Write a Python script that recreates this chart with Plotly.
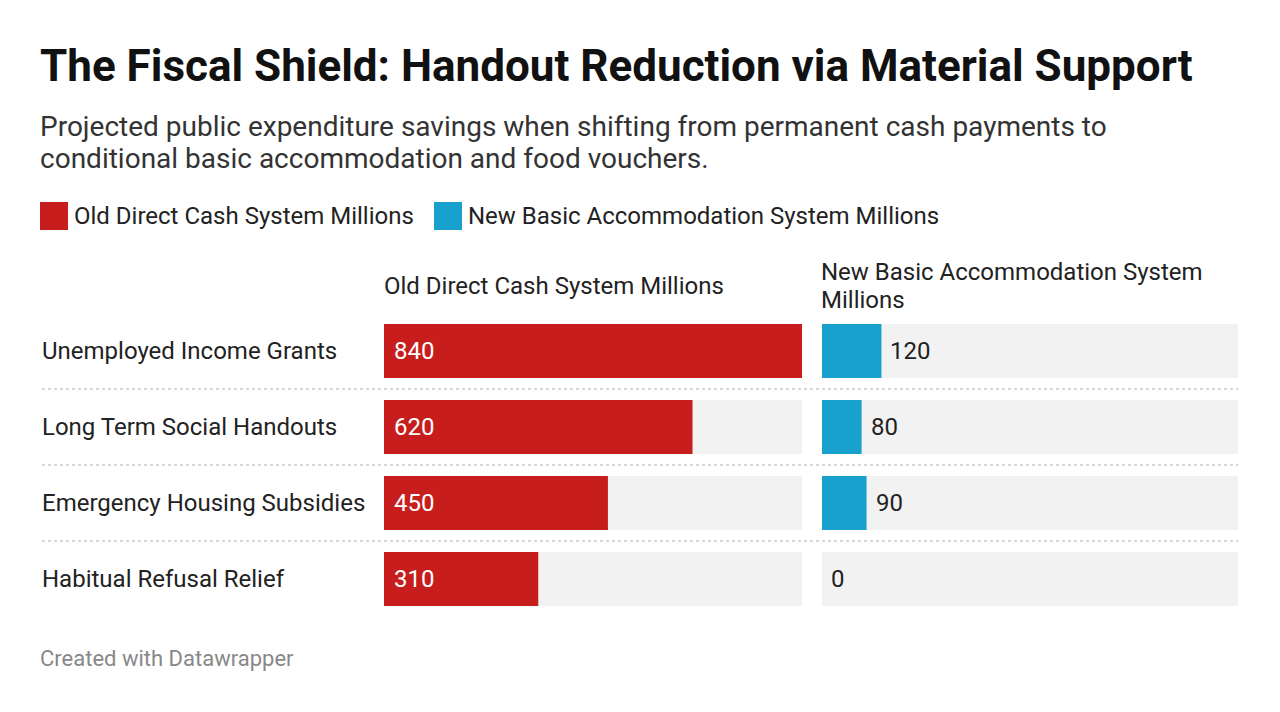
import plotly.graph_objects as go

# data
categories = [
    "Unemployed Income Grants",
    "Long Term Social Handouts",
    "Emergency Housing Subsidies",
    "Habitual Refusal Relief",
]
old_cash = [840, 620, 450, 310]
new_accommodation = [120, 80, 90, 0]
series_names = ["Old Direct Cash System Millions", "New Basic Accommodation System Millions"]

RED = "#c71e1d"
BLUE = "#18a1cd"
GREY_BG = "#f2f2f2"
FONT = "Roboto"
W, H = 1280, 712


def px_x(v):
    return v / W


def px_y(v):
    return 1 - v / H


def text_note(x, y, text, size, color="#222222", **kw):
    return dict(
        x=px_x(x), y=px_y(y), xref="paper", yref="paper", text=text,
        showarrow=False, xanchor="left", yanchor="middle",
        font=dict(family=FONT, size=size, color=color), **kw,
    )


scale_max = max(old_cash + new_accommodation)
rows = list(range(len(categories)))

fig = go.Figure()

for axis, values, color in [("x", old_cash, RED), ("x2", new_accommodation, BLUE)]:
    # light grey full-width track
    fig.add_trace(go.Bar(
        x=[scale_max] * len(values), y=rows, orientation="h",
        marker=dict(color=GREY_BG, line=dict(width=0)),
        width=54 / 76, xaxis=axis, yaxis="y", hoverinfo="skip", showlegend=False,
    ))
    fig.add_trace(go.Bar(
        x=values, y=rows, orientation="h",
        marker=dict(color=color, line=dict(width=0)),
        width=54 / 76, xaxis=axis, yaxis="y", hoverinfo="skip", showlegend=False,
    ))

annotations = []
shapes = []

# value labels
for i, v in enumerate(old_cash):
    annotations.append(dict(
        x=0, y=i, xref="x", yref="y", text=str(v), showarrow=False,
        xanchor="left", xshift=8, font=dict(family=FONT, size=24, color="white"),
    ))
for i, v in enumerate(new_accommodation):
    annotations.append(dict(
        x=v, y=i, xref="x2", yref="y", text=str(v), showarrow=False,
        xanchor="left", xshift=7, font=dict(family=FONT, size=24, color="#222222"),
    ))

# row labels
for i, c in enumerate(categories):
    annotations.append(dict(
        x=px_x(40), y=i, xref="paper", yref="y", text=c, showarrow=False,
        xanchor="left", font=dict(family=FONT, size=24, color="#222222"),
    ))

# dotted row separators
for i in rows[:-1]:
    shapes.append(dict(
        type="line", xref="paper", yref="y", x0=px_x(42), x1=px_x(1238),
        y0=i + 0.5, y1=i + 0.5, line=dict(color="#cccccc", width=1.5, dash="dot"),
    ))

# column headers
annotations.append(text_note(382, 286, series_names[0], 24))
annotations.append(text_note(819, 272, "New Basic Accommodation System", 24))
annotations.append(text_note(819, 300, "Millions", 24))

# legend
legend_items = [(40, series_names[0], RED), (434, series_names[1], BLUE)]
for x0, name, color in legend_items:
    shapes.append(dict(
        type="rect", xref="paper", yref="paper", x0=px_x(x0), x1=px_x(x0 + 28),
        y0=px_y(230), y1=px_y(202), fillcolor=color, line=dict(width=0),
    ))
    annotations.append(text_note(x0 + 32, 216, name, 24))

# title, subtitle, footer
annotations.append(text_note(
    38, 66, "<b>The Fiscal Shield: Handout Reduction via Material Support</b>", 44, "#111111"))
annotations.append(text_note(
    38, 127, "Projected public expenditure savings when shifting from permanent cash payments to",
    28, "#333333"))
annotations.append(text_note(
    38, 159, "conditional basic accommodation and food vouchers.", 28, "#333333"))
annotations.append(text_note(38, 658, "Created with Datawrapper", 22, "#888888"))

axis_style = dict(range=[0, scale_max], showgrid=False, zeroline=False,
                  showticklabels=False, fixedrange=True)

fig.update_layout(
    width=W, height=H,
    margin=dict(l=0, r=0, t=0, b=0),
    paper_bgcolor="white", plot_bgcolor="white",
    barmode="overlay", showlegend=False,
    xaxis=dict(domain=[px_x(384), px_x(802)], **axis_style),
    xaxis2=dict(domain=[px_x(822), px_x(1238)], **axis_style),
    yaxis=dict(domain=[px_y(617), px_y(313)], range=[3.5, -0.5],
               showgrid=False, zeroline=False, showticklabels=False, fixedrange=True),
    annotations=annotations,
    shapes=shapes,
    font=dict(family=FONT),
)

fig.write_html(
    "out.html",
    config={"displayModeBar": False},
    post_script="document.body.style.margin='0';",
)
